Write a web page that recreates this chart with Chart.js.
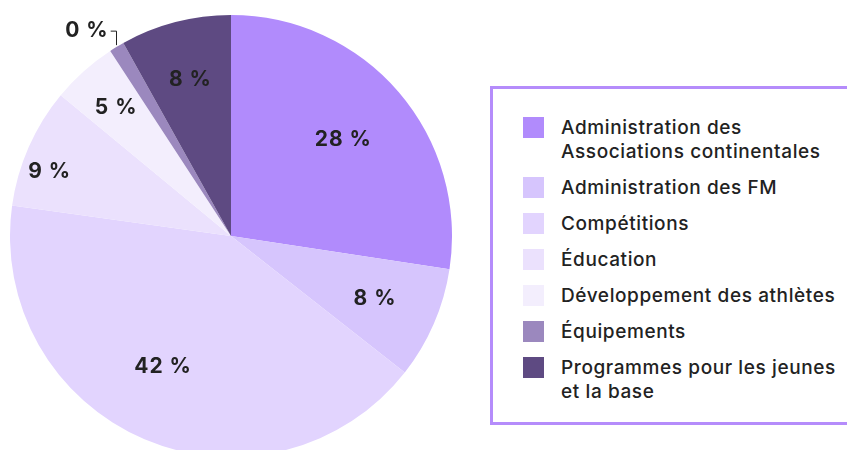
<!doctype html>
<html><head><meta charset="utf-8">
<title>Répartition</title>
<script src="https://cdn.jsdelivr.net/npm/chart.js"></script>
<style>
  html, body { margin: 0; padding: 0; width: 847px; height: 450px; overflow: hidden; background: #fff; }
  .pie { position: absolute; left: 10px; top: 15px; width: 442px; height: 442px; }
  .legend { position: absolute; left: 490px; top: 86px; width: 380px; height: 339px;
            border: 3px solid #b58cfb; box-sizing: border-box; }
  .legend ul { list-style: none; margin: 0; padding: 27px 0 0 30px; }
  .legend li { display: flex; align-items: flex-start; margin-bottom: 12px;
               font: 500 19px/24px Inter, "Noto Sans", sans-serif; letter-spacing: 0.6px; color: #222; }
  .legend .sw { width: 21px; height: 21px; flex: none; margin: 1px 17px 0 0; }
</style>
</head><body>
<div class="pie"><canvas id="pie" width="442" height="442"></canvas></div>
<div class="legend"><ul id="legend"></ul></div>
<script>
const categories = [
  ['Administration des', 'Associations continentales'],
  ['Administration des FM'],
  ['Compétitions'],
  ['Éducation'],
  ['Développement des athlètes'],
  ['Équipements'],
  ['Programmes pour les jeunes', 'et la base']
];
const shares = [27.4, 8.2, 41.6, 8.8, 4.8, 1.1, 8.1];
const shownPct = [28, 8, 42, 9, 5, 0, 8];
const colors = ['#b18bfc', '#d6c5fd', '#e2d4fe', '#ebe1fd', '#f3eefd', '#9b88be', '#5e4a82'];
// label distance from centre as share of radius (negative = outside with leader), and angle nudge in degrees
const labelDist = [0.67, 0.71, 0.665, 0.87, 0.78, -1, 0.73];
const labelTurn = [0, 0, 4.5, -4.3, 0, 0, 0];

const legend = document.getElementById('legend');
categories.forEach((c, i) => {
  const li = document.createElement('li');
  li.innerHTML = `<span class="sw" style="background:${colors[i]}"></span><span>${c.join('<br>')}</span>`;
  legend.appendChild(li);
});

const sliceLabels = {
  id: 'sliceLabels',
  afterDatasetsDraw(chart) {
    const ctx = chart.ctx;
    const meta = chart.getDatasetMeta(0);
    ctx.save();
    ctx.fillStyle = '#222';
    ctx.font = '700 21px Inter, "Noto Sans", sans-serif';
    ctx.letterSpacing = '1px';
    ctx.textBaseline = 'middle';
    meta.data.forEach((arc, i) => {
      const p = arc.getProps(['x', 'y', 'startAngle', 'endAngle', 'outerRadius'], true);
      const mid = (p.startAngle + p.endAngle) / 2 + labelTurn[i] * Math.PI / 180;
      const txt = shownPct[i] + ' %';
      if (labelDist[i] > 0) {
        const r = p.outerRadius * labelDist[i];
        ctx.textAlign = 'center';
        ctx.fillText(txt, p.x + Math.cos(mid) * r, p.y + Math.sin(mid) * r);
      } else {
        const ax = p.x + Math.cos(mid) * (p.outerRadius + 2);
        const ay = p.y + Math.sin(mid) * (p.outerRadius + 2);
        const ty = ay - 14;
        ctx.strokeStyle = '#222';
        ctx.lineWidth = 1;
        ctx.beginPath();
        ctx.moveTo(Math.round(ax) + 0.5, ay);
        ctx.lineTo(Math.round(ax) + 0.5, ty);
        ctx.lineTo(ax - 5, ty);
        ctx.stroke();
        ctx.textAlign = 'right';
        ctx.fillText(txt, ax - 7, ty);
      }
    });
    ctx.restore();
  }
};

new Chart(document.getElementById('pie'), {
  type: 'pie',
  data: {
    labels: categories.map(c => c.join(' ')),
    datasets: [{ data: shares, backgroundColor: colors, borderWidth: 0 }]
  },
  options: {
    responsive: false,
    animation: false,
    layout: { padding: 0 },
    plugins: { legend: { display: false }, tooltip: { enabled: false } }
  },
  plugins: [sliceLabels]
});
</script>
</body></html>
